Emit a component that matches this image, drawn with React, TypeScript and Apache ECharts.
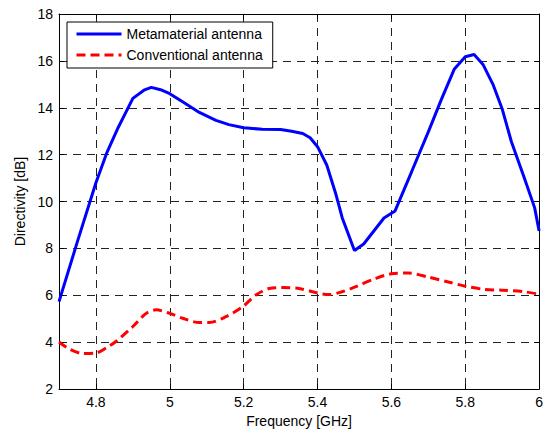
import React, { useEffect, useRef } from "react";
import * as echarts from "echarts";

const metaFreq = [4.7, 4.75, 4.8, 4.83, 4.86, 4.9, 4.93, 4.95, 4.975, 5.0, 5.04, 5.08, 5.125, 5.16, 5.2, 5.25, 5.3, 5.33, 5.36, 5.38, 5.4, 5.425, 5.45, 5.467, 5.5, 5.525, 5.58, 5.61, 5.655, 5.7, 5.736, 5.77, 5.8, 5.824, 5.848, 5.875, 5.9, 5.925, 5.96, 5.988, 6.0];
const metaDir = [5.73, 8.3, 10.8, 12.1, 13.15, 14.4, 14.75, 14.87, 14.77, 14.6, 14.2, 13.8, 13.46, 13.28, 13.15, 13.08, 13.07, 13.0, 12.9, 12.72, 12.34, 11.56, 10.3, 9.3, 7.91, 8.19, 9.3, 9.6, 11.28, 12.97, 14.38, 15.64, 16.18, 16.27, 15.85, 15.0, 13.95, 12.55, 11.0, 9.73, 8.75];

const convFreq = [4.7, 4.73, 4.765, 4.8, 4.828, 4.855, 4.9, 4.936, 4.963, 5.0, 5.035, 5.08, 5.107, 5.152, 5.197, 5.233, 5.269, 5.305, 5.35, 5.4, 5.43, 5.466, 5.502, 5.556, 5.6, 5.646, 5.7, 5.754, 5.8, 5.853, 5.9, 5.96, 6.0];
const convDir = [4.01, 3.69, 3.52, 3.54, 3.76, 4.04, 4.67, 5.23, 5.38, 5.23, 5.02, 4.84, 4.84, 5.09, 5.51, 6.01, 6.29, 6.33, 6.29, 6.1, 6.03, 6.15, 6.36, 6.71, 6.92, 6.95, 6.78, 6.57, 6.39, 6.25, 6.22, 6.15, 6.05];

const seriesNames = ["Metamaterial antenna", "Conventional antenna"];
const xName = "Frequency [GHz]";
const yName = "Directivity [dB]";

const FONT = '"Liberation Sans", Arial, sans-serif';

export default function App() {
  const ref = useRef<HTMLDivElement>(null);
  useEffect(() => {
    if (!ref.current) return;
    const chart = echarts.init(ref.current, undefined, { renderer: "svg" });
    const gridLine = { show: true, lineStyle: { color: "#222", width: 1, type: [8, 6] as any } };
    const axisLine = { show: true, lineStyle: { color: "#000", width: 1 } };
    const tick = { show: true, inside: true, length: 5, lineStyle: { color: "#000", width: 1 } };
    chart.setOption({
      animation: false,
      backgroundColor: "#fff",
      textStyle: { fontFamily: FONT },
      grid: { left: 59, right: 5, top: 14, bottom: 40, containLabel: false },
      legend: {
        data: seriesNames,
        orient: "vertical",
        left: 67,
        top: 22,
        padding: [5, 10, 6, 8],
        itemWidth: 45,
        itemHeight: 14,
        itemGap: 7,
        borderColor: "#000",
        borderWidth: 1,
        backgroundColor: "#fff",
        lineStyle: { width: 3 },
        itemStyle: { color: "transparent", borderColor: "transparent", borderWidth: 0, opacity: 0 },
        textStyle: { fontSize: 14, color: "#000", fontFamily: FONT },
      },
      xAxis: [
        {
          type: "value",
          min: 4.7,
          max: 6,
          splitNumber: 6,
          position: "bottom",
          axisLine,
          axisTick: tick,
          splitLine: gridLine,
          axisLabel: { showMinLabel: false, fontSize: 14, color: "#000", margin: 6, fontFamily: FONT },
          name: xName,
          nameLocation: "middle",
          nameGap: 23,
          nameTextStyle: { fontSize: 14, color: "#000", fontFamily: FONT },
        },
        {
          type: "value",
          min: 4.7,
          max: 6,
          splitNumber: 6,
          position: "top",
          axisLine,
          axisTick: tick,
          splitLine: { show: false },
          axisLabel: { show: false },
        },
      ],
      yAxis: [
        {
          type: "value",
          min: 2,
          max: 18,
          interval: 2,
          position: "left",
          axisLine,
          axisTick: tick,
          splitLine: gridLine,
          axisLabel: { fontSize: 14, color: "#000", margin: 6, fontFamily: FONT },
          name: yName,
          nameLocation: "middle",
          nameRotate: 90,
          nameGap: 30,
          nameTextStyle: { fontSize: 14, color: "#000", fontFamily: FONT },
        },
        {
          type: "value",
          min: 2,
          max: 18,
          interval: 2,
          position: "right",
          axisLine,
          axisTick: tick,
          splitLine: { show: false },
          axisLabel: { show: false },
        },
      ],
      series: [
        {
          name: seriesNames[0],
          type: "line",
          xAxisIndex: 0,
          yAxisIndex: 0,
          showSymbol: false,
          symbol: "none",
          data: metaFreq.map((f, i) => [f, metaDir[i]]),
          lineStyle: { color: "#0000ff", width: 3 },
          itemStyle: { color: "#0000ff" },
          z: 3,
        },
        {
          name: seriesNames[1],
          type: "line",
          xAxisIndex: 0,
          yAxisIndex: 0,
          showSymbol: false,
          symbol: "none",
          smooth: 0.3,
          data: convFreq.map((f, i) => [f, convDir[i]]),
          lineStyle: { color: "#ff0000", width: 3, type: [9, 5] as any },
          itemStyle: { color: "#ff0000" },
          z: 2,
        },
      ],
    });
    return () => chart.dispose();
  }, []);
  return (
    <div
      ref={ref}
      style={{ position: "fixed", left: 0, top: 0, width: 546, height: 433, background: "#fff" }}
    />
  );
}
